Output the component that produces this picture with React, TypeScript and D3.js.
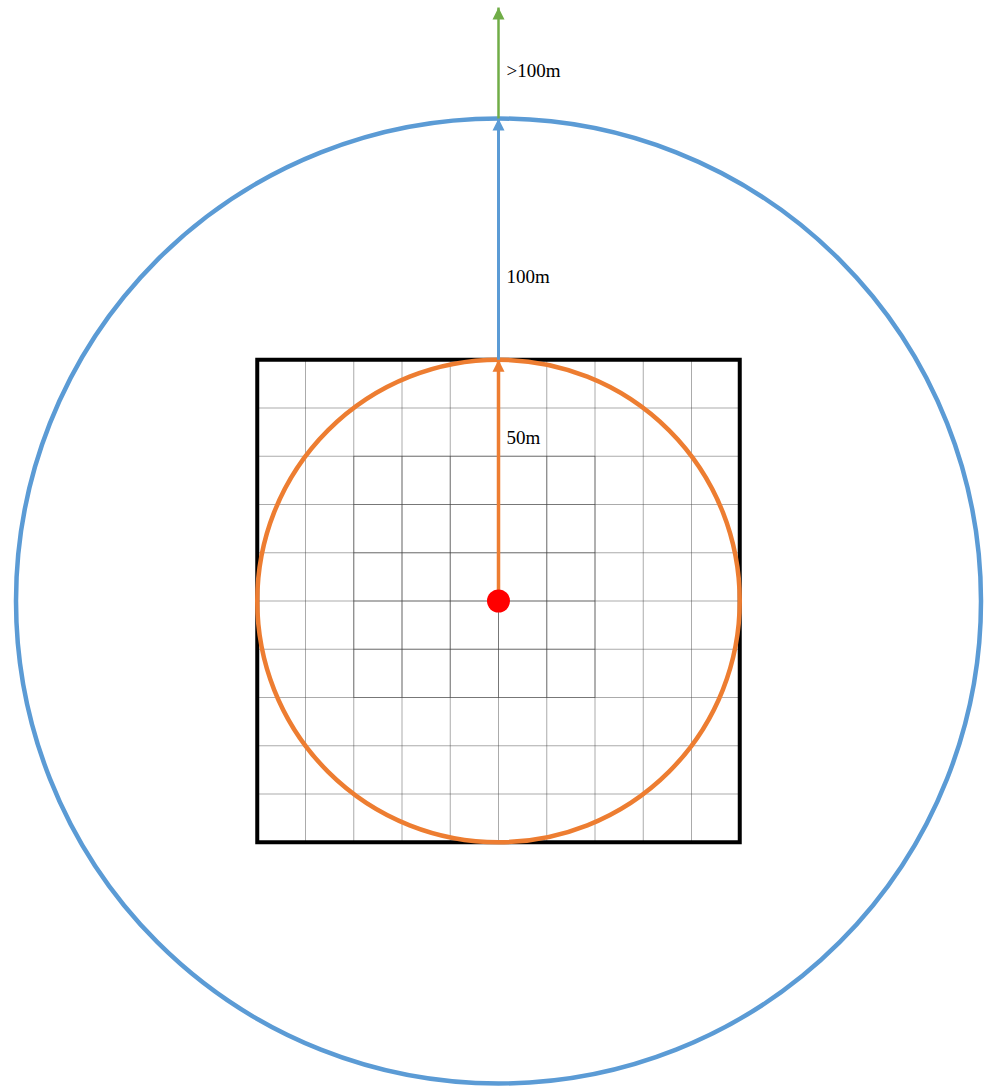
import { useEffect, useRef } from "react";
import * as d3 from "d3";

// ring radii in metres and their colours
const rings = [
  { key: "inner", radius: 50, color: "#ed7d31", label: "50m", labelAt: 32.5 },
  { key: "outer", radius: 100, color: "#5b9bd5", label: "100m", labelAt: 66 },
];
const beyond = { label: ">100m", color: "#70ad47", reach: 123, labelAt: 108.6 };
const gridCells = 10;
const gridHalfSize = 50; // square covers -50..50 m
const innerBox = { x0: -30, x1: 20, y0: -20, y1: 30 };

export default function App() {
  const svgRef = useRef<SVGSVGElement | null>(null);

  useEffect(() => {
    const svgElement = svgRef.current;
    if (!svgElement) return;
    const width = 985;
    const height = 1090;
    const cx = 498.5;
    const cy = 601;

    const svg = d3.select(svgElement);
    svg.selectAll("*").remove();

    // metres -> pixels
    const r = d3.scaleLinear().domain([0, 100]).range([0, 482.5]);
    const x = d3.scaleLinear().domain([-50, 50]).range([cx - r(50), cx + r(50)]);
    const y = d3.scaleLinear().domain([-50, 50]).range([cy + r(50), cy - r(50)]);

    const defs = svg.append("defs");
    const markerFor = (id: string, color: string) => {
      defs
        .append("marker")
        .attr("id", id)
        .attr("viewBox", "0 0 10 10")
        .attr("refX", 10)
        .attr("refY", 5)
        .attr("markerUnits", "userSpaceOnUse")
        .attr("markerWidth", 12)
        .attr("markerHeight", 16)
        .attr("orient", "auto")
        .append("path")
        .attr("d", "M0,0L10,5L0,10Z")
        .attr("fill", color);
    };

    // grid
    const ticks = d3.range(gridCells + 1).map((i) => -gridHalfSize + (i * 2 * gridHalfSize) / gridCells);
    const grid = svg.append("g");
    const addLine = (x1: number, y1: number, x2: number, y2: number, op: number) =>
      grid
        .append("line")
        .attr("x1", x(x1))
        .attr("y1", y(y1))
        .attr("x2", x(x2))
        .attr("y2", y(y2))
        .attr("stroke", "#444")
        .attr("stroke-opacity", op)
        .attr("stroke-width", 1);
    ticks.forEach((t) => {
      addLine(t, -50, t, 50, 0.45);
      addLine(-50, t, 50, t, 0.45);
    });
    // darker inner block
    ticks
      .filter((t) => t >= innerBox.x0 && t <= innerBox.x1)
      .forEach((t) => addLine(t, innerBox.y0, t, innerBox.y1, 0.5));
    ticks
      .filter((t) => t >= innerBox.y0 && t <= innerBox.y1)
      .forEach((t) => addLine(innerBox.x0, t, innerBox.x1, t, 0.5));
    grid
      .append("rect")
      .attr("x", x(-50))
      .attr("y", y(50))
      .attr("width", x(50) - x(-50))
      .attr("height", y(-50) - y(50))
      .attr("fill", "none")
      .attr("stroke", "#000")
      .attr("stroke-width", 4);

    // rings
    svg
      .append("g")
      .selectAll("circle")
      .data(rings)
      .join("circle")
      .attr("cx", cx)
      .attr("cy", cy)
      .attr("r", (d) => r(d.radius))
      .attr("fill", "none")
      .attr("stroke", (d) => d.color)
      .attr("stroke-width", 4.5);

    // arrows
    const arrows = [
      { from: 0, to: rings[0].radius, color: rings[0].color, label: rings[0].label, labelAt: rings[0].labelAt, w: 3.5 },
      { from: rings[0].radius, to: rings[1].radius, color: rings[1].color, label: rings[1].label, labelAt: rings[1].labelAt, w: 3 },
      { from: rings[1].radius, to: beyond.reach, color: beyond.color, label: beyond.label, labelAt: beyond.labelAt, w: 2.5 },
    ];
    arrows.forEach((a, i) => {
      const id = `arrow-${i}`;
      markerFor(id, a.color);
      svg
        .append("line")
        .attr("x1", cx)
        .attr("x2", cx)
        .attr("y1", cy - r(a.from))
        .attr("y2", cy - r(a.to))
        .attr("stroke", a.color)
        .attr("stroke-width", a.w)
        .attr("marker-end", `url(#${id})`);
      svg
        .append("text")
        .attr("x", cx + 8)
        .attr("y", cy - r(a.labelAt))
        .attr("font-family", "'Liberation Serif', 'DejaVu Serif', serif")
        .attr("font-size", 19)
        .attr("fill", "#000")
        .text(a.label);
    });

    // origin
    svg
      .append("circle")
      .attr("cx", cx)
      .attr("cy", cy)
      .attr("r", 11.5)
      .attr("fill", "#ff0000");

    svg.attr("width", width).attr("height", height);
  }, []);

  return (
    <svg
      ref={svgRef}
      width={985}
      height={1090}
      style={{ position: "absolute", left: 0, top: 0, background: "#fff" }}
    />
  );
}
